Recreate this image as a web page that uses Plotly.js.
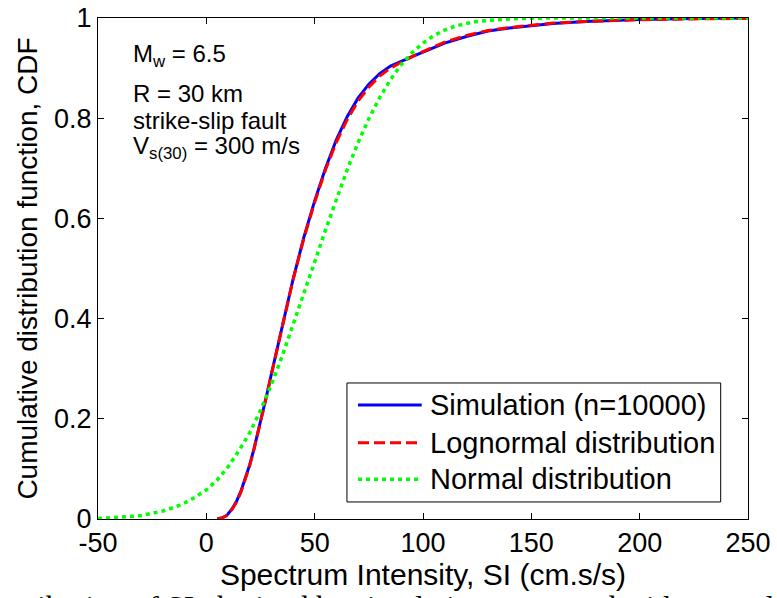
<!DOCTYPE html>
<html>
<head>
<meta charset="utf-8">
<script src="https://cdn.plot.ly/plotly-3.0.1.min.js"></script>
<style>html,body{margin:0;padding:0;background:#fff;overflow:hidden}#chart{width:777px;height:598px}</style>
</head>
<body>
<div id="chart"></div>
<script>
// Simulation (empirical CDF, n=10000)
const simX = [5, 7, 9, 10, 12, 14, 16, 18, 20, 22, 25, 28, 30, 33, 36, 40, 45, 50, 55, 60, 65, 70, 75, 80, 85, 90, 95, 100, 110, 120, 130, 140, 150, 160, 175, 200, 225, 250];
const simY = [0, 0.002, 0.006, 0.010, 0.021, 0.036, 0.056, 0.080, 0.108, 0.140, 0.193, 0.250, 0.289, 0.347, 0.405, 0.478, 0.562, 0.635, 0.700, 0.757, 0.803, 0.840, 0.868, 0.889, 0.904, 0.914, 0.923, 0.932, 0.950, 0.963, 0.974, 0.980, 0.985, 0.989, 0.993, 0.997, 0.999, 1.0];
// Lognormal distribution fit
const logX = [5, 7, 9, 10, 12, 14, 16, 18, 20, 22, 25, 28, 30, 33, 36, 40, 45, 50, 55, 60, 65, 70, 75, 80, 85, 90, 95, 100, 110, 120, 130, 140, 150, 160, 175, 200, 225, 250];
const logY = [0, 0.002, 0.006, 0.009, 0.020, 0.034, 0.054, 0.078, 0.106, 0.139, 0.192, 0.249, 0.288, 0.346, 0.404, 0.477, 0.560, 0.632, 0.697, 0.752, 0.797, 0.834, 0.862, 0.884, 0.900, 0.912, 0.923, 0.933, 0.952, 0.965, 0.975, 0.981, 0.986, 0.990, 0.993, 0.9966, 0.9982, 0.999];
// Normal distribution fit
const normX = [-50, -45, -40, -35, -30, -25, -20, -15, -10, -5, 0, 5, 10, 15, 20, 25, 30, 35, 40, 45, 50, 55, 60, 65, 70, 75, 80, 85, 90, 95, 100, 105, 110, 115, 120, 125, 130, 135, 140, 150, 160, 200, 250];
const normY = [0.001, 0.002, 0.003, 0.005, 0.007, 0.011, 0.016, 0.023, 0.032, 0.044, 0.058, 0.078, 0.104, 0.136, 0.172, 0.217, 0.268, 0.325, 0.386, 0.449, 0.513, 0.577, 0.639, 0.697, 0.751, 0.799, 0.841, 0.877, 0.907, 0.931, 0.950, 0.965, 0.976, 0.984, 0.989, 0.993, 0.995, 0.997, 0.998, 0.9995, 1.0, 1.0, 1.0];

const seriesNames = ["Simulation (n=10000)", "Lognormal distribution", "Normal distribution"];
const xTickVals = [-50, 0, 50, 100, 150, 200, 250];
const xTickText = ["-50", "0", "50", "100", "150", "200", "250"];
const yTickVals = [0, 0.2, 0.4, 0.6, 0.8, 1];
const yTickText = ["0", "0.2", "0.4", "0.6", "0.8", "1"];

const colors = ["#0000ff", "#ff0000", "#00ff00"];
const dashes = ["solid", "11px,5px", "4px,4px"];

const traces = [
  {x: simX, y: simY, name: seriesNames[0], mode: "lines", line: {color: colors[0], width: 3, dash: dashes[0]}, showlegend: false},
  {x: logX, y: logY, name: seriesNames[1], mode: "lines", line: {color: colors[1], width: 3, dash: dashes[1]}, showlegend: false},
  {x: normX, y: normY, name: seriesNames[2], mode: "lines", line: {color: colors[2], width: 3.5, dash: dashes[2]}, showlegend: false}
];

const font = "Liberation Sans, Arial, sans-serif";
// legend geometry in paper coords
const lg = {x0: 0.383, x1: 0.958, y0: 0.034, y1: 0.2715, lx0: 0.40, lx1: 0.498, tx: 0.508, rows: [0.2275, 0.1523, 0.0792]};

const shapes = [
  {type: "rect", xref: "paper", yref: "paper", x0: lg.x0, x1: lg.x1, y0: lg.y0, y1: lg.y1, line: {color: "#000", width: 1}, fillcolor: "#fff", layer: "above"}
];
const annotations = [];
for (let i = 0; i < 3; i++) {
  shapes.push({type: "line", xref: "paper", yref: "paper", x0: lg.lx0, x1: lg.lx1, y0: lg.rows[i], y1: lg.rows[i],
    line: {color: colors[i], width: i === 2 ? 3.5 : 3, dash: dashes[i]}, layer: "above"});
  annotations.push({xref: "paper", yref: "paper", x: lg.tx, y: lg.rows[i], xanchor: "left", yanchor: "middle",
    text: seriesNames[i], showarrow: false, font: {family: font, size: 29, color: "#000"}});
}
const infoLines = ["M<sub>w</sub> = 6.5", "R = 30 km", "strike-slip fault", "V<sub>s(30)</sub> = 300 m/s"];
const infoY = [0.926, 0.850, 0.795, 0.742];
for (let i = 0; i < infoLines.length; i++) {
  annotations.push({xref: "paper", yref: "paper", x: 0.0508, y: infoY[i], xanchor: "left", yanchor: "middle",
    text: infoLines[i], showarrow: false, font: {family: font, size: 24, color: "#000"}});
}
annotations.push({xref: "paper", yref: "paper", x: 0.465, y: -0.137, xanchor: "center", yanchor: "top",
  text: "ribution of SI obtained by simulation compared with normal", showarrow: false,
  font: {family: "Liberation Serif, Times New Roman, serif", size: 31, color: "#000"}});

const axisCommon = {showgrid: false, zeroline: false, showline: true, linecolor: "#000", linewidth: 1,
  mirror: "ticks", ticks: "inside", ticklen: 6, tickcolor: "#000", tickfont: {family: font, size: 27, color: "#000"}};

const layout = {
  width: 777, height: 598,
  margin: {l: 98, r: 29, t: 18, b: 79, pad: 0},
  paper_bgcolor: "#fff", plot_bgcolor: "#fff",
  xaxis: Object.assign({}, axisCommon, {range: [-50, 250], tickvals: xTickVals, ticktext: xTickText,
    title: {text: "Spectrum Intensity, SI (cm.s/s)", font: {family: font, size: 30, color: "#000"}, standoff: 4}}),
  yaxis: Object.assign({}, axisCommon, {range: [0, 1], tickvals: yTickVals, ticktext: yTickText,
    title: {text: "Cumulative distribution function, CDF", font: {family: font, size: 28, color: "#000"}, standoff: 8}}),
  shapes: shapes,
  annotations: annotations,
  showlegend: false
};

Plotly.newPlot("chart", traces, layout, {staticPlot: true, displayModeBar: false});
</script>
</body>
</html>
